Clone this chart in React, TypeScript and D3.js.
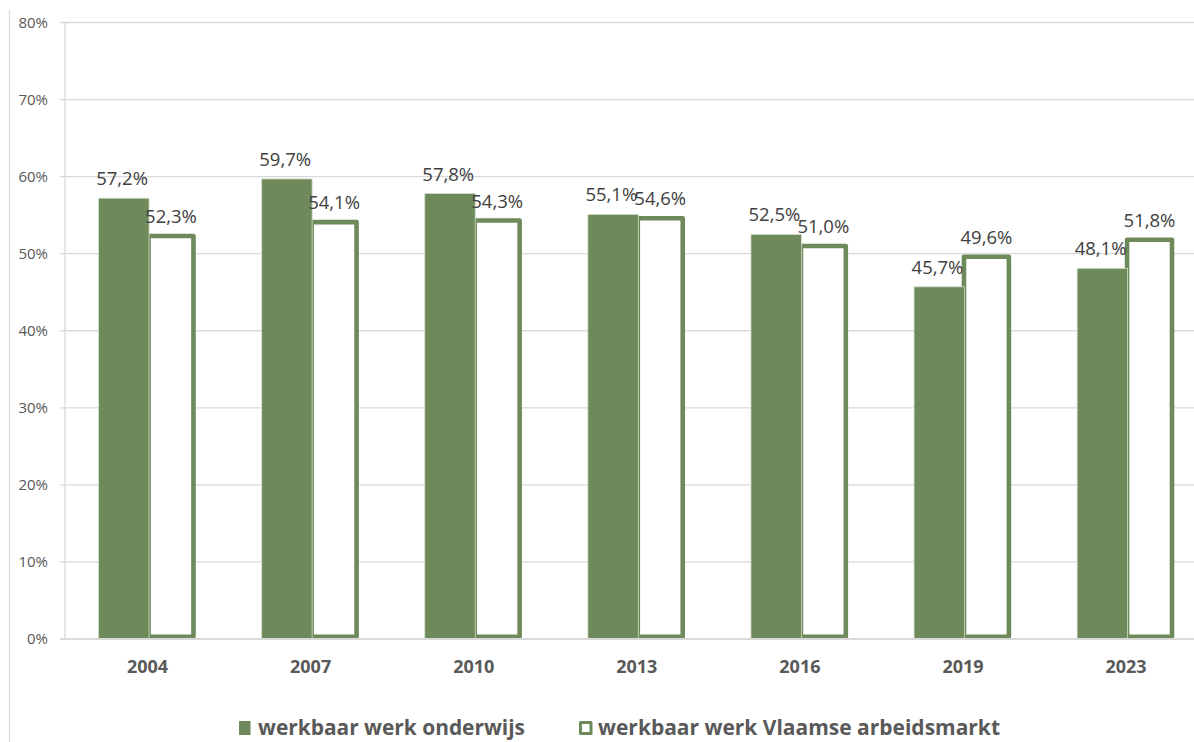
import React from "react";
import * as d3 from "d3";

const years = ["2004", "2007", "2010", "2013", "2016", "2019", "2023"];
const onderwijs = [57.2, 59.7, 57.8, 55.1, 52.5, 45.7, 48.1];
const vlaams = [52.3, 54.1, 54.3, 54.6, 51.0, 49.6, 51.8];
const seriesNames = ["werkbaar werk onderwijs", "werkbaar werk Vlaamse arbeidsmarkt"];
const yTicks = [0, 10, 20, 30, 40, 50, 60, 70, 80];

const W = 1194;
const H = 742;
const GREEN = "#6e8a5a";
const GRID = "#d9d9d9";
const FONT = "'Open Sans', sans-serif";

const fmt = (v: number) => v.toFixed(1).replace(".", ",") + "%";

export default function App() {
  const y = d3.scaleLinear().domain([0, 80]).range([639, 22.5]);
  const x0 = d3
    .scaleBand<string>()
    .domain(years)
    .range([66, 1207.6])
    .paddingInner(0.4)
    .paddingOuter(0.2);
  const x1 = d3
    .scaleBand<string>()
    .domain(["a", "b"])
    .range([0, x0.bandwidth()]);
  const bw = x1.bandwidth();
  const sw = 4.6;

  return (
    <svg
      width={W}
      height={H}
      style={{ position: "absolute", left: 0, top: 0, background: "#fff" }}
      fontFamily={FONT}
    >
      <rect x={0} y={0} width={W} height={H} fill="#fff" />
      {/* frame line */}
      <line x1={9.5} x2={9.5} y1={10} y2={H} stroke={GRID} strokeWidth={1.3} />
      {/* gridlines */}
      {yTicks.map((t) => (
        <g key={t}>
          {t !== 0 && (
            <line x1={60} x2={W} y1={y(t)} y2={y(t)} stroke={GRID} strokeWidth={1.3} />
          )}
          <text
            x={48}
            y={y(t)}
            dy="0.36em"
            textAnchor="end"
            fontSize={15}
            fill="#595959"
          >
            {t}%
          </text>
        </g>
      ))}
      {/* vertical axis */}
      <line x1={65} x2={65} y1={y(80)} y2={y(0)} stroke={GRID} strokeWidth={1.3} />

      {/* bars */}
      {years.map((yr, i) => {
        const bx = x0(yr)!;
        const ga = bx + x1("a")!;
        const gb = bx + x1("b")!;
        return (
          <g key={yr}>
            <rect
              x={gb + 1}
              y={y(vlaams[i])}
              width={bw - 4}
              height={y(0) - sw / 2 - y(vlaams[i])}
              fill="#fff"
              stroke={GREEN}
              strokeWidth={sw}
              strokeLinejoin="round"
            />
            <rect
              x={ga}
              y={y(onderwijs[i])}
              width={bw + 1.5}
              height={y(0) - y(onderwijs[i])}
              fill={GREEN}
              stroke="#d3ddcb"
              strokeWidth={0.8}
            />
            <text
              x={ga + bw / 2 - 1}
              y={y(onderwijs[i]) - 13}
              textAnchor="middle"
              fontSize={18.5}
              fill="#404040"
            >
              {fmt(onderwijs[i])}
            </text>
            <text
              x={gb + bw / 2 - 1}
              y={y(vlaams[i]) - 13}
              textAnchor="middle"
              fontSize={18.5}
              fill="#404040"
            >
              {fmt(vlaams[i])}
            </text>
            <text
              x={bx + x0.bandwidth() / 2}
              y={673}
              textAnchor="middle"
              fontSize={18}
              fontWeight="bold"
              fill="#595959"
            >
              {yr}
            </text>
          </g>
        );
      })}
      {/* baseline axis on top */}
      <line x1={60} x2={W} y1={y(0)} y2={y(0)} stroke={GRID} strokeWidth={2} />

      {/* legend */}
      <g>
        <rect x={239} y={721} width={11.5} height={14} fill={GREEN} />
        <text
          x={258}
          y={735}
          fontSize={21}
          fontWeight="bold"
          fill="#595959"
          textLength={267}
          lengthAdjust="spacingAndGlyphs"
        >
          {seriesNames[0]}
        </text>
        <rect
          x={580.5}
          y={722.5}
          width={10.5}
          height={11}
          fill="#fff"
          stroke={GREEN}
          strokeWidth={3}
          strokeLinejoin="round"
        />
        <text
          x={598}
          y={735}
          fontSize={21}
          fontWeight="bold"
          fill="#595959"
          textLength={402}
          lengthAdjust="spacingAndGlyphs"
        >
          {seriesNames[1]}
        </text>
      </g>
    </svg>
  );
}
